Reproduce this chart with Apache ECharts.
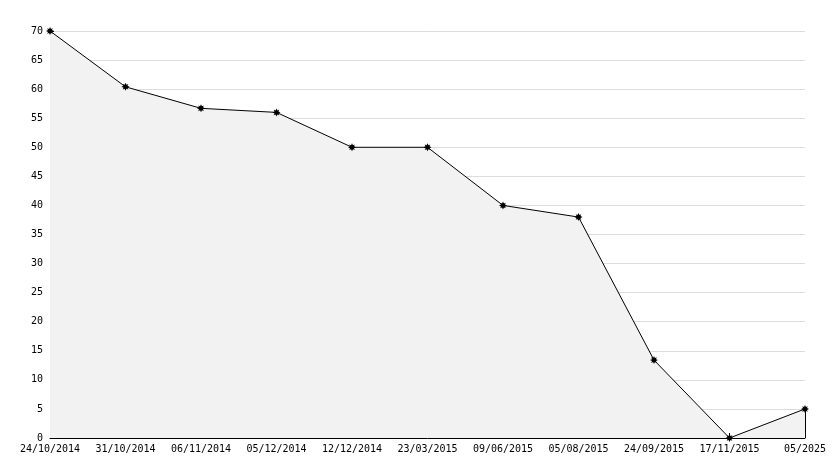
<!DOCTYPE html>
<html><head><meta charset="utf-8">
<script src="https://cdn.jsdelivr.net/npm/echarts@6/dist/echarts.min.js"></script>
<style>html,body{margin:0;padding:0;background:#fff}#c{width:834px;height:468px}</style>
</head><body><div id="c"></div>
<script>
const categories = ['24/10/2014','31/10/2014','06/11/2014','05/12/2014','12/12/2014','23/03/2015','09/06/2015','05/08/2015','24/09/2015','17/11/2015','05/2025'];
const values = [70, 60.4, 56.7, 56, 50, 50, 40, 38, 13.4, 0, 5];
const yMin = 0, yMax = 70, yStep = 5;

const font = 'DejaVu Sans Mono';
const last = values.length - 1;
const starPath = 'path://M5,0 L6.2,2.5 L8.5,1.5 L7.5,3.8 L10,5 L7.5,6.2 L8.5,8.5 L6.2,7.5 L5,10 L3.8,7.5 L1.5,8.5 L2.5,6.2 L0,5 L2.5,3.8 L1.5,1.5 L3.8,2.5 Z';
const chart = echarts.init(document.getElementById('c'), null, {renderer:'canvas'});
chart.setOption({
  animation: false,
  backgroundColor: '#fff',
  grid: {left: 50, right: 29, top: 31, bottom: 30, containLabel: false},
  xAxis: {
    type: 'category', data: categories, boundaryGap: false,
    axisLine: {lineStyle: {color: '#000', width: 1}},
    axisTick: {inside: true, length: 5, lineStyle: {color: '#000'}},
    axisLabel: {color: '#000', fontFamily: font, fontSize: 10, margin: 6, interval: 0},
    splitLine: {show: false}
  },
  yAxis: {
    type: 'value', min: yMin, max: yMax, interval: yStep,
    axisLine: {show: true, lineStyle: {color: '#000', width: 1}},
    axisTick: {show: true, inside: true, length: 4, lineStyle: {color: '#000'}},
    minorTick: {show: true, splitNumber: 5, length: 3, lineStyle: {color: '#000'}},
    axisLabel: {color: '#000', fontFamily: font, fontSize: 10, margin: 7},
    splitLine: {show: true, lineStyle: {color: '#dddddd', width: 1}}
  },
  series: [{
    type: 'line', data: values, clip: false,
    symbol: starPath, symbolSize: 8,
    itemStyle: {color: '#000'},
    lineStyle: {color: '#000', width: 1},
    areaStyle: {color: '#f2f2f2', opacity: 1},
    markLine: {
      silent: true, symbol: 'none', label: {show: false},
      lineStyle: {color: '#000', width: 1, type: 'solid'},
      data: [[{coord: [last, 0]}, {coord: [last, values[last]]}]]
    }
  }]
});
</script></body></html>
